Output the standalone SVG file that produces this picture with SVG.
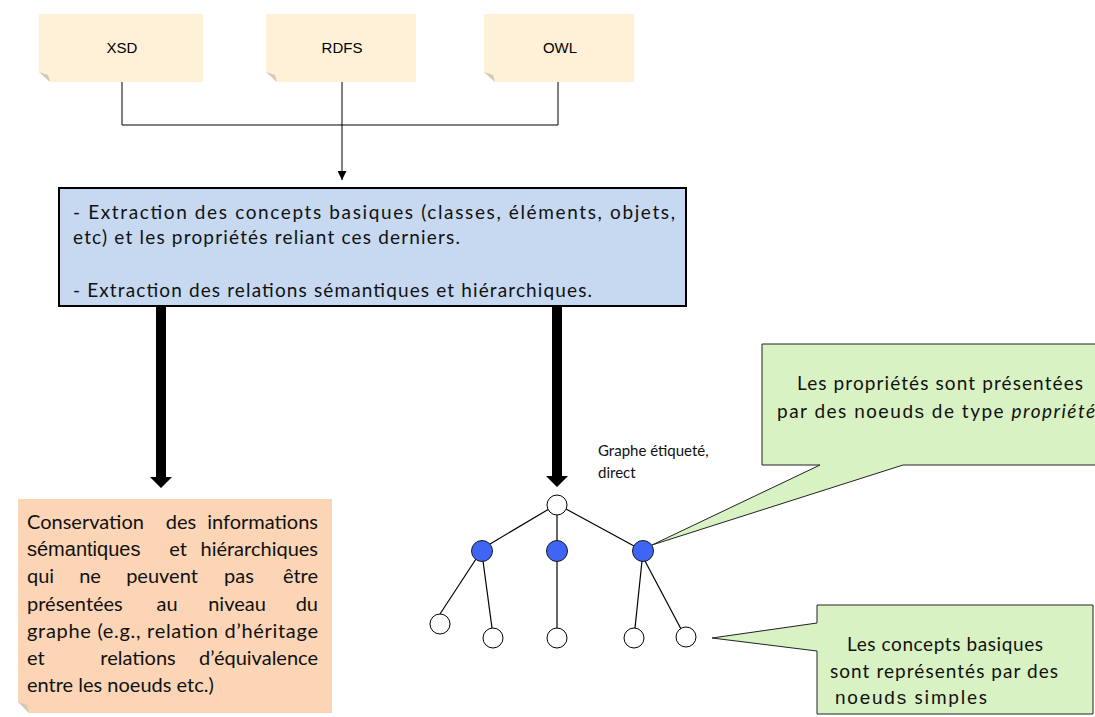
<svg xmlns="http://www.w3.org/2000/svg" width="1095" height="717" viewBox="0 0 1095 717">
<defs>
<style>
.src{fill:#FFF1D8}
.fold{fill:#D6C9B0}
.lbl{font-family:"Liberation Sans",Arial,sans-serif;font-size:15px;fill:#000}
.cal{font-family:Lato,"Liberation Sans",sans-serif;font-size:19px;fill:#111}
.org{font-family:Lato,"Liberation Sans",sans-serif;font-size:20px;fill:#111}
.ari{font-family:"Liberation Sans",Arial,sans-serif}
.thin{stroke:#000;stroke-width:1;fill:none}
.thick{fill:#000}
.edge{stroke:#000;stroke-width:1.2}
.wn{fill:#fff;stroke:#000;stroke-width:1}
.bn{fill:#3F65F4;stroke:#1a1a1a;stroke-width:1}
.callout{fill:#D9F2C3;stroke:#222;stroke-width:1}
</style>
<marker id="ah" markerWidth="9" markerHeight="9" refX="9" refY="4.5" orient="auto" markerUnits="userSpaceOnUse" viewBox="0 0 9 9">
<path d="M0,0 L9,4.5 L0,9 Z" fill="#000"/>
</marker>
</defs>

<g id="node-xsd">
<path class="src" d="M39,14 H203 V82 H50 L39,72 Z"/>
<path class="fold" d="M39,72 L48,75 L50,82 Z"/>
<text class="lbl" x="122" y="53" text-anchor="middle">XSD</text>
</g>
<g id="node-rdfs">
<path class="src" d="M266,14 H416 V82 H277 L266,72 Z"/>
<path class="fold" d="M266,72 L275,75 L277,82 Z"/>
<text class="lbl" x="342" y="53" text-anchor="middle">RDFS</text>
</g>
<g id="node-owl">
<path class="src" d="M484,14 H634 V82 H495 L484,72 Z"/>
<path class="fold" d="M484,72 L493,75 L495,82 Z"/>
<text class="lbl" x="560" y="53" text-anchor="middle">OWL</text>
</g>

<g id="connectors">
<path class="thin" d="M122,82 V125 H558 V82"/>
<path class="thin" d="M342,82 V125"/>
<line x1="342" y1="125" x2="342" y2="180" stroke="#000" stroke-width="1" marker-end="url(#ah)"/>
<path class="thick" d="M156,307 H166 V477 H172 L161,488 L150,477 H156 Z"/>
<path class="thick" d="M552,307 H562 V476 H568 L557,487 L546,476 H552 Z"/>
<line class="edge" x1="549" y1="509" x2="490" y2="544"/>
<line class="edge" x1="557" y1="515" x2="557" y2="541"/>
<line class="edge" x1="566" y1="509" x2="634" y2="546"/>
<line class="edge" x1="476" y1="559" x2="440" y2="614"/>
<line class="edge" x1="483" y1="561" x2="492" y2="628"/>
<line class="edge" x1="557" y1="561" x2="557" y2="628"/>
<line class="edge" x1="642" y1="561" x2="635" y2="628"/>
<line class="edge" x1="645" y1="561" x2="681" y2="629"/>
</g>

<g id="node-extraction">
<rect x="59" y="188" width="627" height="118" fill="#C6D9F0" stroke="#000" stroke-width="2"/>
<text class="cal" x="73" y="219" textLength="602" lengthAdjust="spacing">- Extraction des concepts basiques (classes, éléments, objets,</text>
<text class="cal" x="73" y="244" textLength="387" lengthAdjust="spacing">etc)  et les propriétés reliant ces derniers.</text>
<text class="cal" x="73" y="297" textLength="519" lengthAdjust="spacing">- Extraction des relations sémantiques et hiérarchiques.</text>
</g>

<g id="node-conservation">
<path d="M18,499 H332 V713 H29 L18,702 Z" fill="#FBD5B5"/>
<path class="fold" d="M18,702 L27,705 L29,713 Z"/>
<text class="org" y="529"><tspan x="27">Conservation</tspan><tspan x="181" text-anchor="middle">des</tspan><tspan x="318" text-anchor="end">informations</tspan></text>
<text class="org" y="556"><tspan x="27" class="ari">sémantiques</tspan><tspan x="178" text-anchor="middle">et</tspan><tspan x="318" text-anchor="end">hiérarchiques</tspan></text>
<text class="org" y="583"><tspan x="27">qui</tspan><tspan x="90" text-anchor="middle">ne</tspan><tspan x="162" text-anchor="middle">peuvent</tspan><tspan x="239" text-anchor="middle">pas</tspan><tspan x="318" text-anchor="end">être</tspan></text>
<text class="org" y="611"><tspan x="27">présentées</tspan><tspan x="167" text-anchor="middle">au</tspan><tspan x="237" text-anchor="middle">niveau</tspan><tspan x="318" text-anchor="end">du</tspan></text>
<text class="org" x="27" y="638" textLength="291" lengthAdjust="spacing">graphe (e.g., relation d’héritage</text>
<text class="org" y="665"><tspan x="27">et</tspan><tspan x="138" text-anchor="middle">relations</tspan><tspan x="318" text-anchor="end">d’équivalence</tspan></text>
<text class="org" x="27" y="692">entre les noeuds  etc.)</text>
</g>

<g id="node-graph-label">
<text class="cal" style="font-size:15px" x="598" y="456">Graphe étiqueté,</text>
<text class="cal" style="font-size:15px" x="598" y="478">direct</text>
</g>

<g id="node-root"><circle class="wn" cx="557" cy="505" r="10"/></g>
<g id="node-p1"><circle class="bn" cx="482" cy="551" r="10.5"/></g>
<g id="node-p2"><circle class="bn" cx="557" cy="551" r="10.5"/></g>
<g id="node-p3"><circle class="bn" cx="643" cy="551" r="10.5"/></g>
<g id="node-l1"><circle class="wn" cx="440" cy="624" r="10"/></g>
<g id="node-l2"><circle class="wn" cx="493" cy="638" r="10"/></g>
<g id="node-l3"><circle class="wn" cx="557" cy="638" r="10"/></g>
<g id="node-l4"><circle class="wn" cx="634" cy="638" r="10"/></g>
<g id="node-l5"><circle class="wn" cx="686" cy="637" r="10"/></g>

<g id="node-callout-props">
<path class="callout" d="M762,344 H1100 V465 H903 L652,545 L820,465 H762 Z"/>
<text class="cal" x="797" y="390" textLength="286" lengthAdjust="spacing">Les propriétés sont présentées</text>
<text class="cal" x="777" y="418" textLength="318" lengthAdjust="spacing">par des <tspan class="ari">noeuds</tspan> de  type <tspan font-style="italic">propriété</tspan></text>
</g>

<g id="node-callout-concepts">
<path class="callout" d="M817,605 H1093 V714 H817 V651 L712,638 L817,623 Z"/>
<text class="cal" x="847" y="651" textLength="196" lengthAdjust="spacing">Les concepts basiques</text>
<text class="cal" x="830" y="678" textLength="228" lengthAdjust="spacing">sont représentés par des</text>
<text class="cal" x="835" y="704" textLength="152" lengthAdjust="spacing"><tspan class="ari">noeuds</tspan> simples</text>
</g>
</svg>
